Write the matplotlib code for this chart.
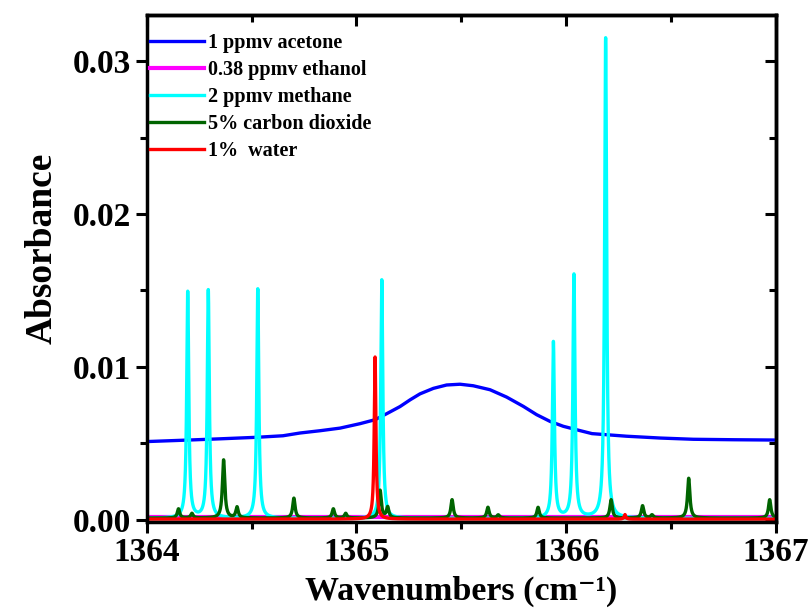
import numpy as np
import matplotlib
matplotlib.use('Agg')
import matplotlib.pyplot as plt
from matplotlib.ticker import MultipleLocator

plt.rcParams['font.family'] = ['Liberation Serif', 'DejaVu Serif']
plt.rcParams['font.weight'] = 'bold'

# acetone: broad band, sampled along the curve
acetone_x = [1364.0, 1364.2, 1364.35, 1364.525, 1364.65, 1364.731, 1364.827, 1364.922,
             1365.017, 1365.089, 1365.144, 1365.208, 1365.256, 1365.303, 1365.367,
             1365.430, 1365.494, 1365.557, 1365.637, 1365.716, 1365.796, 1365.859,
             1365.923, 1365.986, 1366.065, 1366.123, 1366.288, 1366.45, 1366.606,
             1366.8, 1367.0]
acetone_y = [0.00512, 0.00522, 0.0053, 0.0054, 0.0055, 0.00568, 0.00583, 0.00600,
             0.00629, 0.00655, 0.00694, 0.00741, 0.00785, 0.00824, 0.00860,
             0.00882, 0.00887, 0.00877, 0.00851, 0.00803, 0.00742, 0.00688,
             0.00644, 0.00612, 0.00584, 0.00564, 0.00547, 0.00535, 0.00527,
             0.00524, 0.00522]

# ethanol: flat, weak absorption across the window
ethanol_x = [1364.0, 1367.0]
ethanol_y = [0.00022, 0.00022]

# line lists: centre (cm-1), peak absorbance
methane_pos = [1364.196, 1364.294, 1364.530, 1365.121, 1365.939, 1366.037, 1366.188]
methane_amp = [0.0148, 0.0149, 0.0150, 0.0156, 0.0115, 0.0159, 0.0314]
methane_hw = 0.0058

co2_pos = [1364.152, 1364.216, 1364.367, 1364.431, 1364.702, 1364.890, 1364.949, 1365.113,
           1365.149, 1365.456, 1365.627, 1365.676, 1365.866, 1366.214, 1366.364, 1366.409,
           1366.584, 1366.970]
co2_amp = [0.0006, 0.0003, 0.0038, 0.0007, 0.0013, 0.0006, 0.0003, 0.0018,
           0.0007, 0.0012, 0.0007, 0.0002, 0.0007, 0.0012, 0.0008, 0.0002,
           0.0026, 0.0012]
co2_hw = 0.0068

water_pos = [1365.089, 1366.28]
water_amp = [0.0106, 0.0003]
water_hw = 0.0048

baseline = {'methane': 0.0001, 'co2': 0.00012, 'water': 0.00005}


def lorentz_sum(x, pos, amp, hw, base):
    y = np.full_like(x, base)
    for p, a in zip(pos, amp):
        y += a * hw**2 / ((x - p)**2 + hw**2)
    return y


wn = np.linspace(1364, 1367, 12001)
methane = lorentz_sum(wn, methane_pos, methane_amp, methane_hw, baseline['methane'])
co2 = lorentz_sum(wn, co2_pos, co2_amp, co2_hw, baseline['co2'])
water = lorentz_sum(wn, water_pos, water_amp, water_hw, baseline['water'])

fig = plt.figure(figsize=(8.1, 6.1), dpi=100)
ax = fig.add_axes([0.181, 0.144, 0.777, 0.831])

lw = 2.4
ax.plot(acetone_x, acetone_y, color='#0000ff', lw=lw, label='1 ppmv acetone')
ax.plot(ethanol_x, ethanol_y, color='#ff00ff', lw=3, label='0.38 ppmv ethanol')
ax.plot(wn, methane, color='#00ffff', lw=lw, label='2 ppmv methane')
ax.plot(wn, co2, color='#006400', lw=lw, label='5% carbon dioxide')
ax.plot(wn, water, color='#ff0000', lw=lw, label='1%  water')

ax.set_xlim(1364, 1367)
ax.set_ylim(-0.00015, 0.033)
ax.xaxis.set_major_locator(MultipleLocator(1))
ax.xaxis.set_minor_locator(MultipleLocator(0.5))
ax.yaxis.set_major_locator(MultipleLocator(0.01))
ax.yaxis.set_minor_locator(MultipleLocator(0.005))
ax.yaxis.set_major_formatter(plt.FormatStrFormatter('%.2f'))

for s in ax.spines.values():
    s.set_linewidth(2.5)
ax.tick_params(which='major', direction='out', length=8, width=2.2, labelsize=24, pad=3)
ax.tick_params(which='minor', direction='out', length=5, width=2.2)
ax.tick_params(top=False, right=False, which='both')

# inward ticks on the top and right edges
top = ax.secondary_xaxis('top')
top.xaxis.set_major_locator(MultipleLocator(1))
top.xaxis.set_minor_locator(MultipleLocator(0.5))
top.tick_params(which='major', direction='in', length=8, width=2.2, labeltop=False)
top.tick_params(which='minor', direction='in', length=5, width=2.2)
right = ax.secondary_yaxis('right')
right.yaxis.set_major_locator(MultipleLocator(0.01))
right.yaxis.set_minor_locator(MultipleLocator(0.005))
right.tick_params(which='major', direction='in', length=8, width=2.2, labelright=False)
right.tick_params(which='minor', direction='in', length=5, width=2.2)
for sa in (top, right):
    for s in sa.spines.values():
        s.set_linewidth(2.5)

ax.set_xlabel('Wavenumbers (cm\u207b\u00b9)', fontsize=24.5, fontweight='bold')
ax.xaxis.label.set_va('baseline')
ax.xaxis.set_label_coords(0.5, -0.153)
ax.set_ylabel('Absorbance', fontsize=27, fontweight='bold')
ax.yaxis.set_label_coords(-0.138, 0.54)

leg = ax.legend(loc='upper left', bbox_to_anchor=(0.005, 0.964), frameon=False,
                handlelength=2.7, handletextpad=0.2, labelspacing=0.34,
                borderpad=0, borderaxespad=0, prop={'weight': 'bold', 'size': 14.5})

fig.savefig('out.png', dpi=100)
